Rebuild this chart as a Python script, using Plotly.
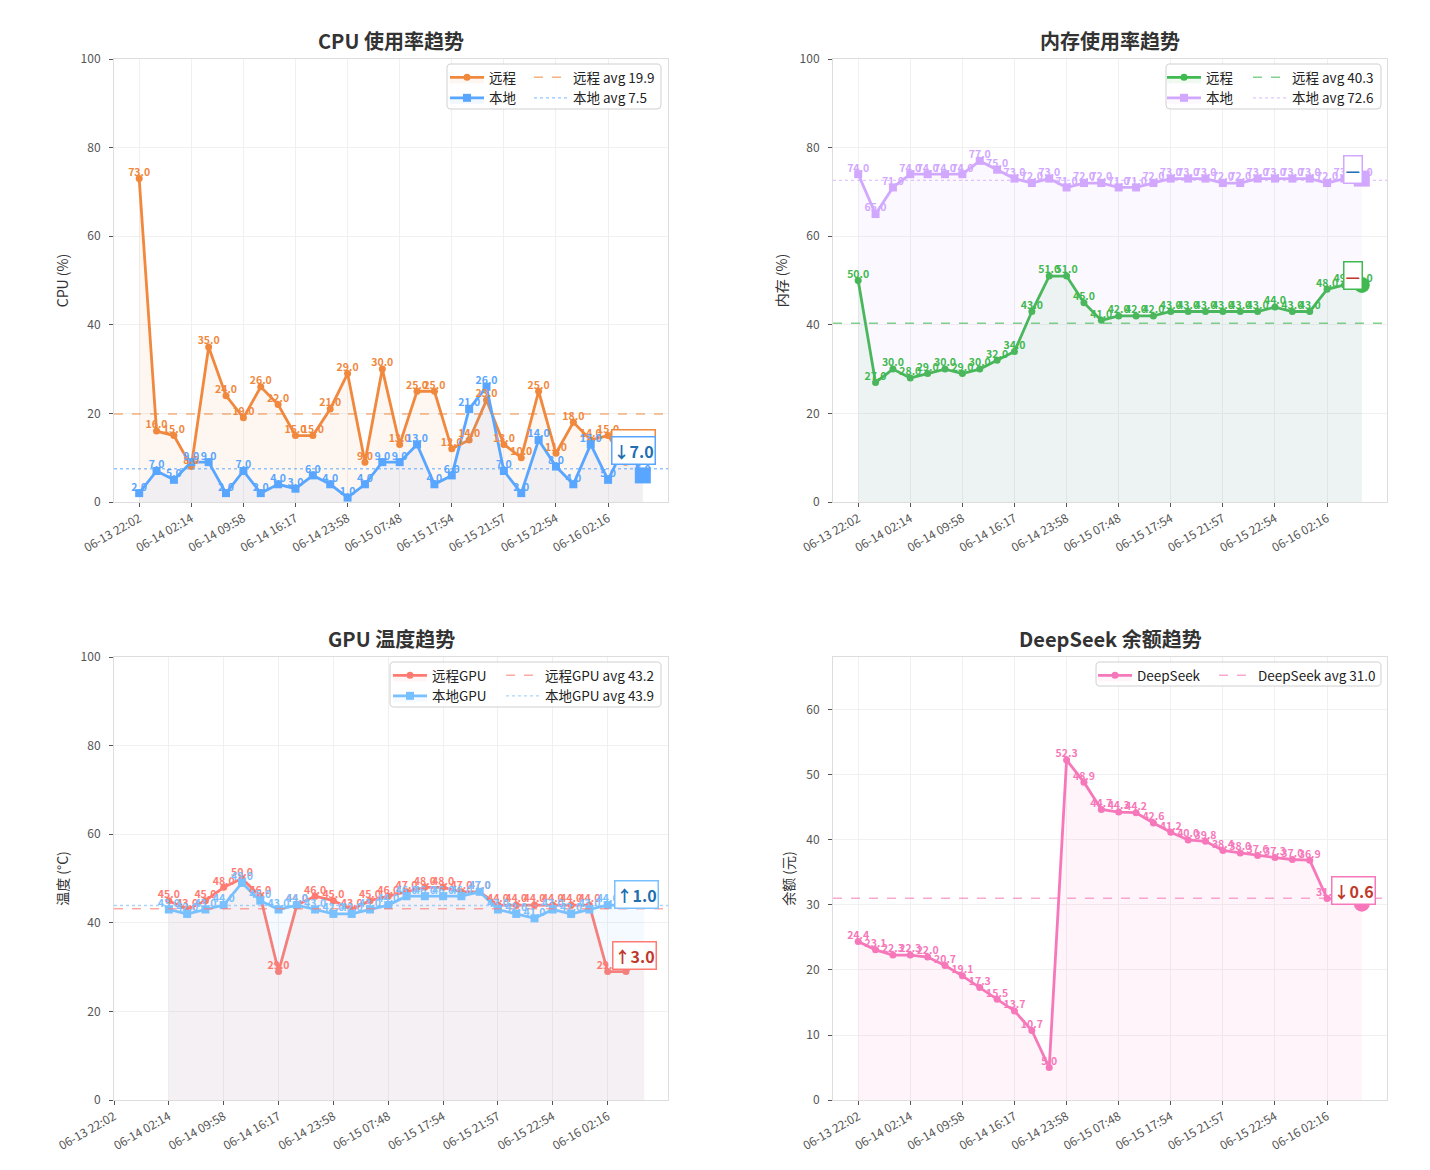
import numpy as np
import plotly.graph_objects as go

W, H = 1430, 1170
FONT = "Noto Sans CJK SC, Noto Sans, DejaVu Sans, sans-serif"

# ---------------- data ----------------
tick_labels = ["06-13 22:02", "06-14 02:14", "06-14 09:58", "06-14 16:17", "06-14 23:58",
               "06-15 07:48", "06-15 17:54", "06-15 21:57", "06-15 22:54", "06-16 02:16"]
n_points = 30
tick_step = 3

cpu_remote = [73, 16, 15, 8, 35, 24, 19, 26, 22, 15, 15, 21, 29, 9, 30,
              13, 25, 25, 12, 14, 23, 13, 10, 25, 11, 18, 14, 15, 9, 12]
cpu_local = [2, 7, 5, 9, 9, 2, 7, 2, 4, 3, 6, 4, 1, 4, 9,
             9, 13, 4, 6, 21, 26, 7, 2, 14, 8, 4, 13, 5, 13, 6]
mem_remote = [50, 27, 30, 28, 29, 30, 29, 30, 32, 34, 43, 51, 51, 45, 41,
              42, 42, 42, 43, 43, 43, 43, 43, 43, 44, 43, 43, 48, 49, 49]
mem_local = [74, 65, 71, 74, 74, 74, 74, 77, 75, 73, 72, 73, 71, 72, 72,
             71, 71, 72, 73, 73, 73, 72, 72, 73, 73, 73, 73, 72, 73, 73]
gpu_remote = [None, None, None, 45, 43, 45, 48, 50, 46, 29, 44, 46, 45, 43, 45,
              46, 47, 48, 48, 47, 47, 44, 44, 44, 44, 44, 44, 29, 29, 32]
gpu_local = [None, None, None, 43, 42, 43, 44, 49, 45, 43, 44, 43, 42, 42, 43,
             44, 46, 46, 46, 46, 47, 43, 42, 41, 43, 42, 43, 44, 44, 45]
deepseek = [24.4, 23.1, 22.3, 22.3, 22.0, 20.7, 19.1, 17.3, 15.5, 13.7, 10.7, 5.0, 52.3, 48.9, 44.7,
            44.3, 44.2, 42.6, 41.2, 40.0, 39.8, 38.4, 38.0, 37.6, 37.3, 37.0, 36.9, 31.0, 30.8, 30.2]

# ---------------- styles ----------------
ORANGE, BLUE = "#f0883e", "#58a6ff"
GREEN, PURPLE = "#3fb950", "#d2a8ff"
RED, LBLUE = "#ff7b72", "#79c0ff"
PINK = "#f778ba"
TXT_RED, TXT_BLUE = "#c0392b", "#1f6fb2"


def rgba(hex_color, a):
    h = hex_color.lstrip("#")
    return "rgba(%d,%d,%d,%s)" % (int(h[0:2], 16), int(h[2:4], 16), int(h[4:6], 16), a)


def px(x):
    return x / W


def py(y):
    return 1 - y / H


panels = [
    dict(title="CPU 使用率趋势", ytitle="CPU (%)", yrange=[0, 100], dtick=20,
         xdom=(114, 668), ydom=(59, 502), xrange=[-1.45, 30.45],
         series=[dict(name="远程", y=cpu_remote, color=ORANGE, symbol="circle", dash="dash",
                      tcolor=TXT_RED, shift=(-9, 5)),
                 dict(name="本地", y=cpu_local, color=BLUE, symbol="square", dash="dot",
                      tcolor=TXT_BLUE, shift=(-9, 25))],
         legbox=(447, 64, 661, 109), legx=(445, 529)),
    dict(title="内存使用率趋势", ytitle="内存 (%)", yrange=[0, 100], dtick=20,
         xdom=(833, 1387), ydom=(59, 502), xrange=[-1.45, 30.45],
         series=[dict(name="远程", y=mem_remote, color=GREEN, symbol="circle", dash="dash",
                      tcolor=TXT_RED, shift=(-9, 9)),
                 dict(name="本地", y=mem_local, color=PURPLE, symbol="square", dash="dot",
                      tcolor=TXT_BLUE, shift=(-9, 9))],
         legbox=(1166, 64, 1381, 109), legx=(1162, 1248)),
    dict(title="GPU 温度趋势", ytitle="温度 (°C)", yrange=[0, 100], dtick=20,
         xdom=(114, 668), ydom=(657, 1100), xrange=[0, 30.3],
         series=[dict(name="远程GPU", y=gpu_remote, color=RED, symbol="circle", dash="dash",
                      tcolor=TXT_RED, shift=(-10, 2.5)),
                 dict(name="本地GPU", y=gpu_local, color=LBLUE, symbol="square", dash="dot",
                      tcolor=TXT_BLUE, shift=(-8, 6.5))],
         legbox=(390, 662, 661, 707), legx=(388, 501)),
    dict(title="DeepSeek 余额趋势", ytitle="余额 (元)", yrange=[0, 68.15], dtick=10,
         xdom=(833, 1387), ydom=(657, 1100), xrange=[-1.45, 30.45],
         series=[dict(name="DeepSeek", y=deepseek, color=PINK, symbol="circle", dash="dash",
                      tcolor=TXT_RED, shift=(-8, 12.7))],
         legbox=(1096, 662, 1381, 686), legx=(1093, 1214)),
]

x_idx = list(range(n_points))
tick_vals = list(range(0, n_points, tick_step))

fig = go.Figure()
layout = dict(width=W, height=H, margin=dict(l=0, r=0, t=0, b=0, autoexpand=False),
              paper_bgcolor="white", plot_bgcolor="white",
              font=dict(family=FONT, color="#333"), showlegend=True)
annotations = []
shapes = []

for pi, p in enumerate(panels):
    k = pi + 1
    xa = "x" if k == 1 else "x%d" % k
    ya = "y" if k == 1 else "y%d" % k
    leg_a = "legend" if k == 1 else "legend%d" % (2 * k - 1)
    leg_b = "legend%d" % (2 * k)

    layout["xaxis" if k == 1 else "xaxis%d" % k] = dict(
        domain=[px(p["xdom"][0]), px(p["xdom"][1])], anchor=ya, range=p["xrange"],
        tickmode="array", tickvals=tick_vals, ticktext=tick_labels, tickangle=-30,
        showgrid=True, gridcolor="#f0f0f0", gridwidth=1, zeroline=False,
        showline=True, linecolor="#dddddd", linewidth=1, mirror=True, automargin=False,
        ticks="outside", ticklen=4, tickcolor="#555", tickfont=dict(size=12, color="#555"))
    layout["yaxis" if k == 1 else "yaxis%d" % k] = dict(
        domain=[py(p["ydom"][1]), py(p["ydom"][0])], anchor=xa, range=p["yrange"],
        dtick=p["dtick"], tick0=0, automargin=False,
        showgrid=True, gridcolor="#f0f0f0", gridwidth=1, zeroline=False,
        showline=True, linecolor="#dddddd", linewidth=1, mirror=True,
        ticks="outside", ticklen=4, tickcolor="#555", ticklabelstandoff=6,
        tickfont=dict(size=12, color="#555"),
        title=dict(text=p["ytitle"], font=dict(size=14, color="#333"), standoff=8))

    # lines + markers + fills
    for s in p["series"]:
        msize = 7 if s["symbol"] == "circle" else 8
        fig.add_trace(go.Scatter(
            x=x_idx, y=s["y"], xaxis=xa, yaxis=ya, name=s["name"], legend=leg_a,
            mode="lines+markers",
            line=dict(color=s["color"], width=2.8),
            marker=dict(symbol=s["symbol"], size=msize, color=s["color"]),
            fill="tozeroy", fillcolor=rgba(s["color"], 0.08),
            hoverinfo="skip"))

    # average lines
    for s in p["series"]:
        valid = [v for v in s["y"] if v is not None]
        avg = float(np.mean(valid))
        fig.add_trace(go.Scatter(
            x=p["xrange"], y=[avg, avg], xaxis=xa, yaxis=ya, legend=leg_b,
            name="%s avg %.1f" % (s["name"], avg), mode="lines",
            line=dict(color=rgba(s["color"], 0.65), width=1.4, dash=s["dash"]),
            hoverinfo="skip"))

    # value labels
    for s in p["series"]:
        txt = ["" if v is None else "%.1f" % v for v in s["y"]]
        fig.add_trace(go.Scatter(
            x=x_idx, y=s["y"], xaxis=xa, yaxis=ya, mode="text", text=txt,
            textposition="top center", showlegend=False, hoverinfo="skip",
            textfont=dict(size=10.5, color=s["color"], family=FONT, weight="bold")))

    # last point highlight + change box
    for s in p["series"]:
        vals = s["y"]
        last_i = n_points - 1
        last_v, prev_v = vals[-1], vals[-2]
        fig.add_trace(go.Scatter(
            x=[x_idx[last_i]], y=[last_v], xaxis=xa, yaxis=ya, mode="markers",
            marker=dict(symbol=s["symbol"], size=16, color=s["color"]),
            showlegend=False, hoverinfo="skip", cliponaxis=False))
        d = round(last_v - prev_v, 1)
        if d > 0:
            label = "↑%.1f" % abs(d)
        elif d < 0:
            label = "↓%.1f" % abs(d)
        else:
            label = "—"
        annotations.append(dict(
            x=x_idx[last_i], y=last_v, xref=xa, yref=ya, text="<b>%s</b>" % label,
            showarrow=False, xshift=s["shift"][0], yshift=s["shift"][1],
            font=dict(size=16, color=s["tcolor"], family=FONT),
            bgcolor="white", bordercolor=s["color"], borderwidth=1.5, borderpad=1))

    # title
    annotations.append(dict(
        x=px((p["xdom"][0] + p["xdom"][1]) / 2), y=py(p["ydom"][0] - 18), xref="paper", yref="paper",
        text="<b>%s</b>" % p["title"], showarrow=False, xanchor="center", yanchor="middle",
        font=dict(size=20, color="#333", family=FONT)))

    # legends (two columns) + frame
    x0, y0, x1, y1 = p["legbox"]
    r = 4
    path = ("M %f,%f L %f,%f Q %f,%f %f,%f L %f,%f Q %f,%f %f,%f L %f,%f Q %f,%f %f,%f "
            "L %f,%f Q %f,%f %f,%f Z") % (
        px(x0 + r), py(y0), px(x1 - r), py(y0), px(x1), py(y0), px(x1), py(y0 + r),
        px(x1), py(y1 - r), px(x1), py(y1), px(x1 - r), py(y1),
        px(x0 + r), py(y1), px(x0), py(y1), px(x0), py(y1 - r),
        px(x0), py(y0 + r), px(x0), py(y0), px(x0 + r), py(y0))
    shapes.append(dict(type="path", path=path, xref="paper", yref="paper",
                       line=dict(color="#d0d0d0", width=1), fillcolor="rgba(255,255,255,0.85)",
                       layer="above"))
    for leg_name, lx in ((leg_a, p["legx"][0]), (leg_b, p["legx"][1])):
        layout[leg_name] = dict(x=px(lx), y=py(y0 - 2), xanchor="left", yanchor="top",
                                bgcolor="rgba(0,0,0,0)", borderwidth=0, itemwidth=34,
                                tracegroupgap=0, orientation="v",
                                font=dict(size=13.5, color="#222", family=FONT))

layout["annotations"] = annotations
layout["shapes"] = shapes
fig.update_layout(**layout)
fig.write_html("out.html")
